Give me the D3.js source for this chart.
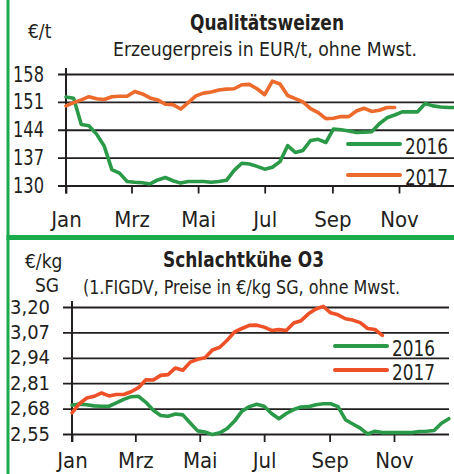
<!DOCTYPE html>
<html lang="de">
<head>
  <meta charset="UTF-8">
  <title>Qualitätsweizen / Schlachtkühe O3</title>
  <script src="https://d3js.org/d3.v7.min.js"></script>
  <style>
    body { margin: 0; background: #fff; }
    svg text { font-family: "Liberation Sans Narrow", "DejaVu Sans Condensed", "Liberation Sans", sans-serif; fill: #231f20; }
  </style>
</head>
<body>
  <svg id="chart" width="454" height="474"></svg>
  <script>
    // month ticks
    const monthLabels = ["Jan", "Mrz", "Mai", "Jul", "Sep", "Nov"];
    const monthIdx = [0, 2, 4, 6, 8, 10];

    // Qualitätsweizen, EUR/t, weekly
    const weizenTicks = [130, 137, 144, 151, 158];
    const weizen2016 = [152.2, 151.9, 145.3, 145.0, 142.9, 139.9, 134.0, 133.1, 131.0, 130.8,
      130.7, 130.4, 131.4, 132.0, 131.2, 130.6, 131.0, 131.0, 131.0, 130.8,
      131.0, 131.3, 133.8, 135.6, 135.4, 134.8, 134.1, 134.6, 136.0, 140.0,
      138.3, 138.8, 141.3, 141.6, 140.8, 144.2, 144.0, 143.7, 143.3, 143.4,
      143.5, 145.5, 147.0, 147.7, 148.5, 148.5, 148.5, 150.6, 150.0, 149.7,
      149.6, 149.6];
    const weizen2017 = [150.0, 150.8, 151.5, 152.3, 151.8, 151.6, 152.3, 152.4, 152.4, 153.6,
      153.0, 152.0, 151.5, 150.4, 150.3, 149.2, 150.8, 152.5, 153.2, 153.5,
      154.0, 154.2, 154.3, 155.3, 155.4, 154.3, 152.8, 156.2, 155.5, 152.6,
      151.8, 151.0, 149.3, 148.3, 146.8, 146.9, 147.3, 147.3, 148.7, 149.4,
      148.6, 148.9, 149.6, 149.6];

    // Schlachtkühe O3, €/kg SG, weekly
    const kueheTicks = [2.55, 2.68, 2.81, 2.94, 3.07, 3.20];
    const kuehe2016 = [2.697, 2.703, 2.700, 2.694, 2.692, 2.692, 2.709, 2.727, 2.741, 2.743,
      2.712, 2.672, 2.645, 2.641, 2.652, 2.648, 2.606, 2.566, 2.560, 2.547,
      2.556, 2.578, 2.616, 2.667, 2.690, 2.702, 2.692, 2.655, 2.628, 2.655,
      2.675, 2.688, 2.690, 2.700, 2.705, 2.705, 2.690, 2.623, 2.601, 2.580,
      2.550, 2.564, 2.557, 2.557, 2.557, 2.557, 2.557, 2.563, 2.564, 2.568,
      2.605, 2.628];
    const kuehe2017 = [2.658, 2.705, 2.734, 2.743, 2.760, 2.745, 2.752, 2.752, 2.766, 2.787,
      2.828, 2.826, 2.850, 2.854, 2.888, 2.876, 2.918, 2.932, 2.940, 2.980,
      2.994, 3.030, 3.073, 3.090, 3.106, 3.107, 3.097, 3.080, 3.084, 3.080,
      3.118, 3.130, 3.165, 3.190, 3.203, 3.170, 3.160, 3.140, 3.133, 3.120,
      3.090, 3.085, 3.055];

    const green = "#2a9a48";
    const svg = d3.select("#chart");
    const weekDate = i => new Date(2016, 0, 1 + 7 * i);
    const fmt = d3.format(".2f");

    function panel(cfg) {
      const g = svg.append("g");
      const x = d3.scaleTime()
        .domain([new Date(2016, 0, 1), new Date(2016, 11, 31)])
        .range([cfg.x0, cfg.x0 + cfg.pxDay * 365]);
      const y = d3.scaleLinear().domain(cfg.yDomain).range(cfg.yRange);

      // horizontal grid + y labels
      const ya = g.append("g")
        .attr("transform", `translate(${cfg.gridLeft},0)`)
        .call(d3.axisLeft(y).tickValues(cfg.ticks)
          .tickSize(-(cfg.gridRight - cfg.gridLeft))
          .tickPadding(cfg.yPad)
          .tickFormat(cfg.yFormat));
      ya.select(".domain").remove();
      ya.selectAll("line").attr("stroke", "#231f20").attr("stroke-width", 1.8);
      ya.selectAll("text").attr("font-size", cfg.yFont).attr("fill", "#231f20")
        .attr("textLength", cfg.yLen).attr("lengthAdjust", "spacingAndGlyphs");

      // x ticks + labels
      const xa = g.append("g")
        .attr("transform", `translate(0,${cfg.yRange[0]})`)
        .call(d3.axisBottom(x)
          .tickValues(monthIdx.map(m => new Date(2016, m, 1)))
          .tickSize(8).tickPadding(cfg.xPad)
          .tickFormat((d, i) => monthLabels[i]));
      xa.select(".domain").remove();
      xa.selectAll("line").attr("stroke", "#231f20").attr("stroke-width", 1.8);
      xa.selectAll("text").attr("font-size", 22).attr("fill", "#231f20");

      // vertical axis
      g.append("line")
        .attr("x1", cfg.x0).attr("x2", cfg.x0)
        .attr("y1", cfg.yRange[1] - 6).attr("y2", cfg.yRange[0] + 8)
        .attr("stroke", "#231f20").attr("stroke-width", 2);

      const line = d3.line().x((d, i) => x(weekDate(i))).y(d => y(d));
      [[cfg.s2016, green], [cfg.s2017, cfg.orange]].forEach(([s, c]) => {
        g.append("path").datum(s)
          .attr("d", line)
          .attr("fill", "none").attr("stroke", c)
          .attr("stroke-width", 3.6)
          .attr("stroke-linejoin", "round").attr("stroke-linecap", "round");
      });

      // legend
      [["2016", green, cfg.leg[0]], ["2017", cfg.orange, cfg.leg[1]]].forEach(([t, c, ly]) => {
        g.append("line")
          .attr("x1", cfg.legX).attr("x2", cfg.legX + 52)
          .attr("y1", ly).attr("y2", ly)
          .attr("stroke", c).attr("stroke-width", 4).attr("stroke-linecap", "round");
        g.append("text").attr("x", cfg.legX + 57).attr("y", ly + 10)
          .attr("font-size", 21).attr("textLength", 43).attr("lengthAdjust", "spacingAndGlyphs")
          .text(t);
      });

      // titles
      g.append("text").attr("x", cfg.titleX).attr("y", cfg.titleY)
        .attr("text-anchor", "middle").attr("font-weight", "bold").attr("font-size", 21)
        .attr("textLength", cfg.titleW).attr("lengthAdjust", "spacingAndGlyphs")
        .text(cfg.title);
      g.append("text").attr("x", cfg.subX).attr("y", cfg.subY)
        .attr("text-anchor", "middle").attr("font-size", 20)
        .attr("textLength", cfg.subW).attr("lengthAdjust", "spacingAndGlyphs")
        .text(cfg.sub);
      cfg.unit.forEach(([t, ux, uy]) => {
        g.append("text").attr("x", ux).attr("y", uy).attr("font-size", 19).text(t);
      });
    }

    panel({
      x0: 66, pxDay: 1.0918,
      yDomain: [130, 158], yRange: [185.5, 74], ticks: weizenTicks,
      gridLeft: 58, gridRight: 454, yPad: 14, yFont: 22, yLen: 31, yFormat: d3.format("d"), xPad: 18,
      s2016: weizen2016, s2017: weizen2017, orange: "#ec6a2c",
      legX: 348, leg: [144, 175],
      title: "Qualitätsweizen", titleX: 267, titleY: 30, titleW: 154,
      sub: "Erzeugerpreis in EUR/t, ohne Mwst.", subX: 265, subY: 56, subW: 304,
      unit: [["€/t", 28, 38]]
    });

    panel({
      x0: 72, pxDay: 1.0557,
      yDomain: [2.55, 3.20], yRange: [434, 307], ticks: kueheTicks,
      gridLeft: 63, gridRight: 449, yPad: 13, yFont: 19, yLen: 40, yFormat: d => fmt(d).replace(".", ","), xPad: 10,
      s2016: kuehe2016, s2017: kuehe2017, orange: "#ee5027",
      legX: 335, leg: [346, 370],
      title: "Schlachtkühe O3", titleX: 243.5, titleY: 267, titleW: 161,
      sub: "(1.FIGDV, Preise in €/kg SG, ohne Mwst.", subX: 241.5, subY: 294, subW: 317,
      unit: [["€/kg", 25, 268], ["SG", 35, 292]]
    });

    // green frame
    svg.append("rect").attr("x", 6.5).attr("y", 0).attr("width", 3).attr("height", 474).attr("fill", "#1aab4b");
    svg.append("rect").attr("x", 6.5).attr("y", 235).attr("width", 448).attr("height", 5).attr("fill", "#1aab4b");
  </script>
</body>
</html>
